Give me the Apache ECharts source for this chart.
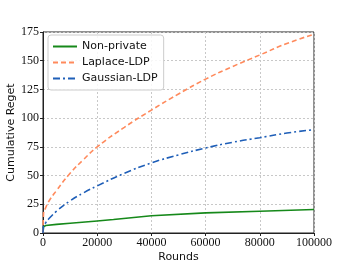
<!DOCTYPE html>
<html><head><meta charset="utf-8">
<script src="https://cdn.jsdelivr.net/npm/echarts@6/dist/echarts.min.js"></script>
<style>html,body{margin:0;padding:0;background:#fff}#c{width:349px;height:262px}</style>
</head><body><div id="c"></div>
<script>
const seriesNames = ['Non-private', 'Laplace-LDP', 'Gaussian-LDP'];
const xTicks = [0, 20000, 40000, 60000, 80000, 100000];
const yTicks = [0, 25, 50, 75, 100, 125, 150, 175];
const roundsLDP = [0, 200, 1000, 2000, 5000, 10000, 15000, 20000, 30000, 40000, 50000, 60000, 70000, 80000, 90000, 100000];
const laplace = [0, 17, 22, 27, 37, 52, 64, 75, 92, 107, 121, 134, 145, 155, 165, 173];
const gaussian = [0, 6, 9, 12, 19, 28, 35, 41, 52, 61, 68, 74, 79, 83, 87, 90];
const roundsNP = [0, 200, 1000, 5000, 10000, 20000, 26000, 26000, 40000, 60000, 80000, 100000];
const nonPrivate = [0, 5.5, 6.5, 7.5, 8.5, 10.5, 11.7, 13, 15, 17.5, 19, 20.5];

const pairs = (xs, ys) => xs.map((x, i) => [x, ys[i]]);
const serif = "'Liberation Serif', 'Times New Roman', serif";
const sans = "'DejaVu Sans', sans-serif";
const chart = echarts.init(document.getElementById('c'), null, {renderer: 'canvas'});
chart.setOption({
  animation: false,
  grid: {left: 43, right: 35, top: 32, bottom: 29, containLabel: false, outerBoundsMode: 'none',
         show: true, borderColor: '#222', borderWidth: 1, backgroundColor: 'transparent'},
  legend: {
    orient: 'vertical', left: 48, top: 35, itemWidth: 24, itemHeight: 10, itemGap: 5,
    padding: [6, 6, 6, 4], borderColor: '#ccc', borderWidth: 1, borderRadius: 3, backgroundColor: 'rgba(255,255,255,0.85)',
    textStyle: {fontFamily: sans, fontSize: 11, color: '#111'},
    itemStyle: {opacity: 0},
    data: seriesNames
  },
  xAxis: {
    type: 'value', min: 0, max: 100000, interval: 20000,
    name: 'Rounds', nameLocation: 'middle', nameGap: 19, nameMoveOverlap: false,
    nameTextStyle: {fontFamily: sans, fontSize: 11, color: '#111'},
    axisLine: {show: true, onZero: false, lineStyle: {color: '#222'}},
    axisTick: {show: true, length: 3, lineStyle: {color: '#222'}},
    axisLabel: {fontFamily: serif, fontSize: 12, color: '#111', margin: 4, formatter: v => String(v)},
    splitLine: {show: true, lineStyle: {color: '#c8c8c8', type: [2, 2]}}
  },
  yAxis: {
    type: 'value', min: 0, max: 175, interval: 25,
    name: 'Cumulative Reget', nameLocation: 'middle', nameGap: 26, nameMoveOverlap: false,
    nameTextStyle: {fontFamily: sans, fontSize: 11, color: '#111'},
    axisLine: {show: true, onZero: false, lineStyle: {color: '#222'}},
    axisTick: {show: true, length: 3, lineStyle: {color: '#222'}},
    axisLabel: {fontFamily: serif, fontSize: 12, color: '#111', margin: 4},
    splitLine: {show: true, lineStyle: {color: '#c8c8c8', type: [2, 2]}}
  },
  series: [
    {name: seriesNames[0], type: 'line', symbol: 'none', smooth: false, data: pairs(roundsNP, nonPrivate),
     lineStyle: {color: '#16891a', width: 1.6}, itemStyle: {color: '#16891a'}},
    {name: seriesNames[1], type: 'line', symbol: 'none', smooth: true, data: pairs(roundsLDP, laplace),
     lineStyle: {color: '#ff8a5c', width: 1.6, type: [5, 3]}, itemStyle: {color: '#ff8a5c'}},
    {name: seriesNames[2], type: 'line', symbol: 'none', smooth: true, data: pairs(roundsLDP, gaussian),
     lineStyle: {color: '#1f5fb8', width: 1.6, type: [7, 3, 2, 3]}, itemStyle: {color: '#1f5fb8'}}
  ]
});
</script></body></html>
